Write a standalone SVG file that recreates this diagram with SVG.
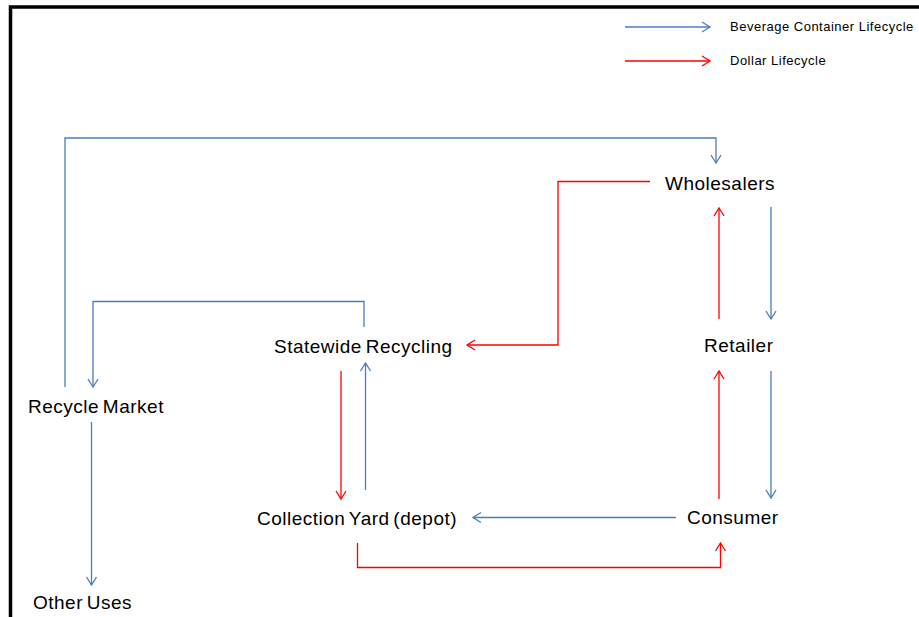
<svg xmlns="http://www.w3.org/2000/svg" width="919" height="617" viewBox="0 0 919 617">
<style>
  .node { font-family: "Liberation Sans", Arial, sans-serif; font-size: 19px; fill: #000; letter-spacing: 0.5px; word-spacing: -2px; }
  .leg { font-family: "Liberation Sans", Arial, sans-serif; font-size: 13px; fill: #000; letter-spacing: 0.5px; }
  .blue { fill: none; stroke: #4A7EBB; stroke-width: 1.3; marker-end: url(#ab); }
  .red { fill: none; stroke: #FF0000; stroke-width: 1.3; marker-end: url(#ar); }
</style>
<defs>
  <marker id="ab" markerUnits="userSpaceOnUse" markerWidth="20" markerHeight="20" viewBox="-10 -10 20 20" refX="0" refY="0" orient="auto">
    <path d="M-8,-5 L0,0 L-8,5" fill="none" stroke="#4A7EBB" stroke-width="1.3"/>
  </marker>
  <marker id="ar" markerUnits="userSpaceOnUse" markerWidth="20" markerHeight="20" viewBox="-10 -10 20 20" refX="0" refY="0" orient="auto">
    <path d="M-8,-5 L0,0 L-8,5" fill="none" stroke="#FF0000" stroke-width="1.3"/>
  </marker>
</defs>
<rect x="0" y="0" width="919" height="617" fill="#fff"/>
<path d="M10.5,617 V7 H919" fill="none" stroke="#000" stroke-width="3.5"/>

<g id="legend">
  <line class="blue" x1="625" y1="27" x2="710" y2="27"/>
  <text class="leg" x="730" y="31">Beverage Container Lifecycle</text>
  <line class="red" x1="625" y1="61" x2="710" y2="61"/>
  <text class="leg" x="730" y="65">Dollar Lifecycle</text>
</g>

<g id="connectors">
  <path class="blue" d="M65,387 V138 H716 V163"/>
  <path class="red" d="M650,181.5 H558 V345 H467"/>
  <path class="blue" d="M771,207 V319"/>
  <path class="red" d="M719,319 V208"/>
  <path class="blue" d="M771,371 V498"/>
  <path class="red" d="M719,499 V371"/>
  <path class="blue" d="M676,517.5 H473"/>
  <path class="red" d="M357.5,543 V567.5 H720.5 V543"/>
  <path class="red" d="M341,371 V499"/>
  <path class="blue" d="M365.5,490 V363"/>
  <path class="blue" d="M364,327 V301.5 H93 V387"/>
  <path class="blue" d="M91.5,422 V585"/>
</g>

<g id="wholesalers"><text class="node" x="665" y="190">Wholesalers</text></g>
<g id="retailer"><text class="node" x="704" y="352">Retailer</text></g>
<g id="statewide-recycling"><text class="node" x="274" y="352.5">Statewide Recycling</text></g>
<g id="recycle-market"><text class="node" x="28" y="413">Recycle Market</text></g>
<g id="collection-yard"><text class="node" x="257" y="525">Collection Yard (depot)</text></g>
<g id="consumer"><text class="node" x="687" y="524">Consumer</text></g>
<g id="other-uses"><text class="node" x="33" y="609">Other Uses</text></g>
</svg>
